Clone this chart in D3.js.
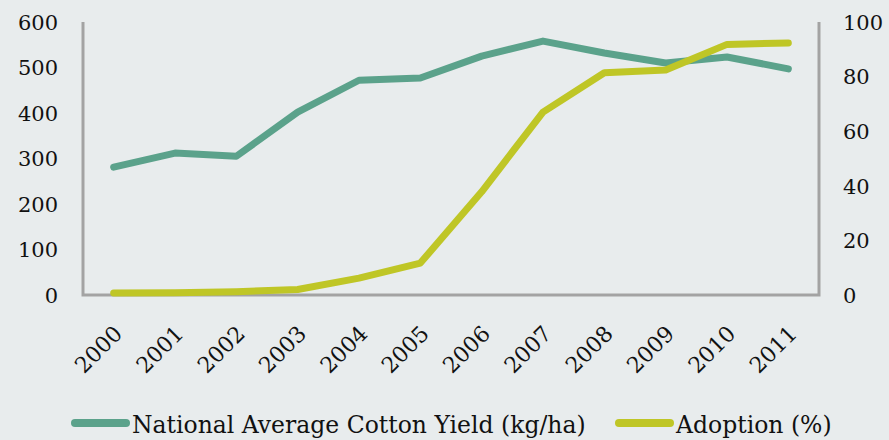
<!DOCTYPE html>
<meta charset="utf-8">
<script src="https://d3js.org/d3.v7.min.js"></script>
<style>
  body { margin: 0; background: #e8eced; }
  text { font-family: "DejaVu Serif", "Liberation Serif", serif; fill: #111; }
</style>
<div id="chart"></div>
<script>
// data
const years = ["2000","2001","2002","2003","2004","2005","2006","2007","2008","2009","2010","2011"];
const cottonYield = [281, 312, 305, 402, 472, 477, 525, 558, 532, 510, 523, 497];
const adoption = [0.7, 0.8, 1.2, 2, 6.2, 11.7, 37.8, 67, 81.4, 82.4, 91.8, 92.3];
const leftTicks = [0, 100, 200, 300, 400, 500, 600];
const rightTicks = [0, 20, 40, 60, 80, 100];

const W = 889, H = 440;
const margin = {top: 22, right: 70, bottom: 145, left: 83};
const width = W - margin.left - margin.right,
      height = H - margin.top - margin.bottom;

const svg = d3.select("#chart").append("svg")
    .attr("width", W).attr("height", H)
    .style("background", "#e8eced");
const g = svg.append("g").attr("transform", `translate(${margin.left},${margin.top})`);

const x = d3.scaleBand().domain(years).range([0, width]);
const yL = d3.scaleLinear().domain([0, 600]).range([height, 0]);
const yR = d3.scaleLinear().domain([0, 100]).range([height, 0]);

const axisColor = "#a3a3a3";

// left axis labels
const left = g.append("g")
    .call(d3.axisLeft(yL).tickValues(leftTicks).tickSize(0).tickPadding(25));
left.select(".domain").remove();
left.selectAll("text").style("font-size", "21px").attr("dy", "0.35em")
    .style("font-family", "DejaVu Serif");

const right = g.append("g").attr("transform", `translate(${width},0)`)
    .call(d3.axisRight(yR).tickValues(rightTicks).tickSize(0).tickPadding(24));
right.select(".domain").remove();
right.selectAll("text").style("font-size", "21px").attr("dy", "0.35em")
    .style("font-family", "DejaVu Serif");

// frame lines: left, bottom, right
g.append("path")
    .attr("d", `M0,0V${height}H${width}V0`)
    .attr("fill", "none").attr("stroke", axisColor).attr("stroke-width", 3);

// x labels rotated
const bottom = g.append("g").attr("transform", `translate(0,${height})`)
    .call(d3.axisBottom(x).tickSize(0));
bottom.select(".domain").remove();
bottom.selectAll("text")
    .style("font-size", "22px")
    .style("font-family", "DejaVu Serif")
    .attr("text-anchor", "end")
    .attr("dy", 0)
    .attr("transform", "translate(10,40) rotate(-45)")
    .attr("y", 0).attr("x", 0);

const cx = d => x(d) + x.bandwidth() / 2;

g.append("path")
    .datum(years.map((d, i) => [d, cottonYield[i]]))
    .attr("fill", "none").attr("stroke", "#5ba28b").attr("stroke-width", 7)
    .attr("stroke-linecap", "round").attr("stroke-linejoin", "round")
    .attr("d", d3.line().x(d => cx(d[0])).y(d => yL(d[1])));

g.append("path")
    .datum(years.map((d, i) => [d, adoption[i]]))
    .attr("fill", "none").attr("stroke", "#bfc626").attr("stroke-width", 7)
    .attr("stroke-linecap", "round").attr("stroke-linejoin", "round")
    .attr("d", d3.line().x(d => cx(d[0])).y(d => yR(d[1])));

// legend
const legend = svg.append("g");
const items = [
  {label: "National Average Cotton Yield (kg/ha)", color: "#5ba28b", x: 72},
  {label: "Adoption (%)", color: "#bfc626", x: 616}
];
items.forEach(it => {
  legend.append("line")
      .attr("x1", it.x + 3).attr("x2", it.x + 54)
      .attr("y1", 423).attr("y2", 423)
      .attr("stroke", it.color).attr("stroke-width", 8)
      .attr("stroke-linecap", "round");
  legend.append("text")
      .attr("x", it.x + 60).attr("y", 433)
      .style("font-family", "DejaVu Serif")
      .style("font-size", "23.5px")
      .text(it.label);
});
</script>
